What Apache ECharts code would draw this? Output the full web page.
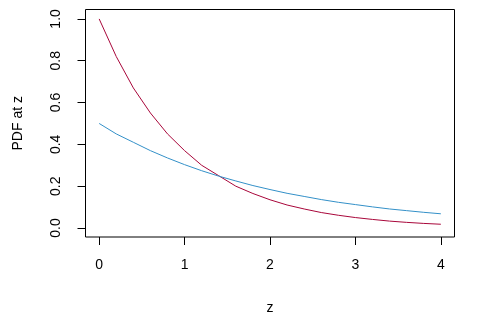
<!DOCTYPE html>
<html><head><meta charset="utf-8">
<script src="https://cdn.jsdelivr.net/npm/echarts@6/dist/echarts.min.js"></script>
<style>html,body{margin:0;padding:0;background:#fff}#c{width:485px;height:320px}</style>
</head><body><div id="c"></div>
<script>
var zValues = [0, 0.2, 0.4, 0.6, 0.8, 1.0, 1.2, 1.4, 1.6, 1.8, 2.0, 2.2, 2.4, 2.6, 2.8, 3.0, 3.2, 3.4, 3.6, 3.8, 4.0];
var redPdf = [1.00, 0.82, 0.67, 0.55, 0.45, 0.37, 0.30, 0.25, 0.20, 0.165, 0.135, 0.11, 0.091, 0.074, 0.061, 0.050, 0.041, 0.033, 0.027, 0.022, 0.018];
var bluePdf = [0.50, 0.45, 0.41, 0.37, 0.335, 0.303, 0.274, 0.248, 0.225, 0.203, 0.184, 0.166, 0.151, 0.136, 0.123, 0.112, 0.101, 0.091, 0.083, 0.075, 0.068];
var xTicks = [0, 1, 2, 3, 4];
var yTicks = [0, 0.2, 0.4, 0.6, 0.8, 1.0];

function pairs(xs, ys){ return xs.map(function(x,i){ return [x, ys[i]]; }); }

var font = 'Liberation Sans, Arial, sans-serif';
var chart = echarts.init(document.getElementById('c'));
chart.setOption({
  animation: false,
  grid: { left: 85.5, right: 30.5, top: 9.5, bottom: 82.5, show: true, borderColor: '#000', borderWidth: 1, backgroundColor: 'transparent' },
  xAxis: {
    type: 'value', min: -0.16, max: 4.16,
    name: 'z', nameLocation: 'middle', nameGap: 64,
    nameTextStyle: { color: '#000', fontSize: 14, fontFamily: font },
    axisLine: { show: false, onZero: false },
    splitLine: { show: false },
    axisTick: { show: true, inside: false, length: 8, lineStyle: { color: '#000' }, customValues: xTicks },
    axisLabel: { color: '#000', fontSize: 14, fontFamily: font, margin: 21, customValues: xTicks, formatter: function(v){ return String(v); } }
  },
  yAxis: {
    type: 'value', min: -0.043, max: 1.045,
    name: 'PDF at z', nameLocation: 'middle', nameGap: 60, nameRotate: 90,
    nameTextStyle: { color: '#000', fontSize: 14, fontFamily: font },
    axisLine: { show: false, onZero: false },
    splitLine: { show: false },
    axisTick: { show: true, inside: false, length: 8, lineStyle: { color: '#000' }, customValues: yTicks },
    axisLabel: { color: '#000', fontSize: 14, fontFamily: font, margin: 22, rotate: 90, customValues: yTicks, formatter: function(v){ return v.toFixed(1); } }
  },
  series: [
    { type: 'line', data: pairs(zValues, redPdf), smooth: false, showSymbol: false, lineStyle: { color: '#A8063A', width: 1 } },
    { type: 'line', data: pairs(zValues, bluePdf), smooth: false, showSymbol: false, lineStyle: { color: '#3390C8', width: 1 } }
  ]
});
</script></body></html>
